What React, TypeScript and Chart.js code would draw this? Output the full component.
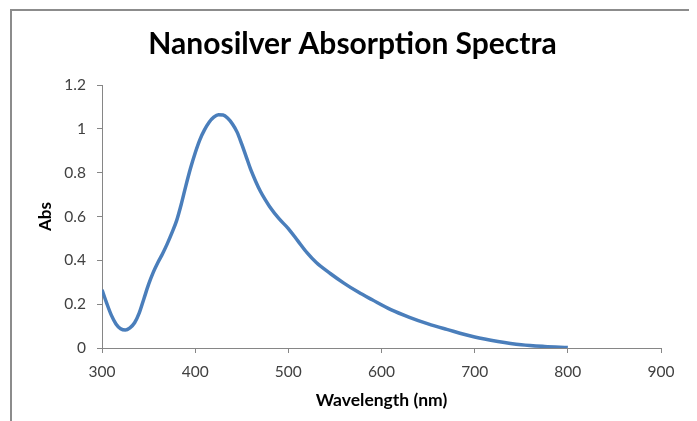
import React, { useEffect, useRef } from "react";
import { Chart, registerables } from "chart.js";

Chart.register(...registerables);

const chartTitle = "Nanosilver Absorption Spectra";
const xAxisTitle = "Wavelength (nm)";
const yAxisTitle = "Abs";

const wavelengths = [
  300, 305, 310, 315, 320, 325, 330, 335, 340, 345, 350, 355, 360, 365, 370, 375, 380, 385, 390, 395,
  400, 405, 410, 415, 420, 425, 430, 435, 440, 445, 450, 455, 460, 465, 470, 475, 480, 490, 500, 510,
  520, 530, 545, 560, 575, 590, 610, 630, 650, 670, 700, 725, 750, 775, 800,
];
const absorbance = [
  0.266, 0.205, 0.15, 0.11, 0.088, 0.082, 0.092, 0.115, 0.16, 0.225, 0.29, 0.345, 0.39, 0.43, 0.475, 0.525, 0.58, 0.655, 0.74, 0.82,
  0.89, 0.95, 0.995, 1.03, 1.053, 1.064, 1.063, 1.048, 1.022, 0.985, 0.93, 0.87, 0.81, 0.76, 0.715, 0.678, 0.645, 0.59, 0.545, 0.49,
  0.435, 0.39, 0.34, 0.295, 0.255, 0.22, 0.175, 0.14, 0.11, 0.085, 0.05, 0.03, 0.015, 0.007, 0.002,
];

const xTickLabels = ["300", "400", "500", "600", "700", "800", "900"];
const yTickLabels = ["0", "0.2", "0.4", "0.6", "0.8", "1", "1.2"];

const framePlugin = {
  id: "frame",
  beforeDraw(chart: any) {
    const ctx = chart.ctx;
    ctx.save();
    ctx.strokeStyle = "#8c8c8c";
    ctx.lineWidth = 2;
    ctx.beginPath();
    ctx.moveTo(3, chart.height);
    ctx.lineTo(3, 2);
    ctx.lineTo(chart.width, 2);
    ctx.stroke();
    ctx.restore();
  },
};

export default function App() {
  const ref = useRef<HTMLCanvasElement>(null);
  useEffect(() => {
    if (!ref.current) return;
    const points = wavelengths.map((w, i) => ({ x: w, y: absorbance[i] }));
    const axisColor = "#868686";
    const tickFont = { family: "Lato", size: 15.5 };
    const chart = new Chart(ref.current, {
      type: "line",
      data: {
        datasets: [
          {
            data: points,
            borderColor: "#4A7EBB",
            borderWidth: 3.5,
            pointRadius: 0,
            cubicInterpolationMode: "monotone",
            fill: false,
          },
        ],
      },
      options: {
        animation: false,
        responsive: false,
        maintainAspectRatio: false,
        layout: { padding: 0 },
        plugins: {
          legend: { display: false },
          tooltip: { enabled: false },
          title: {
            display: true,
            text: chartTitle,
            color: "#000000",
            font: { family: "Lato", size: 30, weight: "bold" },
            padding: { top: 18, bottom: 23 },
          },
        },
        scales: {
          x: {
            type: "linear",
            min: 300,
            max: 900,
            afterFit: (s: any) => { s.height = 73; },
            ticks: {
              stepSize: 100,
              color: "#404040",
              font: tickFont,
              padding: 10,
              maxRotation: 0,
              callback: (_v: any, i: number) => xTickLabels[i],
            },
            grid: { display: true, drawOnChartArea: false, drawTicks: true, tickLength: 5, color: axisColor },
            border: { display: true, color: axisColor, width: 1 },
            title: {
              display: true,
              text: xAxisTitle,
              color: "#000000",
              font: { family: "Lato", size: 17.5, weight: "bold" },
              padding: { top: 0, bottom: 10 },
            },
          },
          y: {
            type: "linear",
            min: 0,
            max: 1.2,
            afterFit: (s: any) => { s.width = 94; },
            ticks: {
              stepSize: 0.2,
              color: "#404040",
              font: tickFont,
              padding: 11,
              callback: (_v: any, i: number) => yTickLabels[i],
            },
            grid: { display: true, drawOnChartArea: false, drawTicks: true, tickLength: 5, color: axisColor },
            border: { display: true, color: axisColor, width: 1 },
            title: {
              display: true,
              text: yAxisTitle,
              color: "#000000",
              font: { family: "Lato", size: 17, weight: "bold" },
              padding: { top: 27, bottom: 0 },
            },
          },
          yRight: {
            type: "linear",
            position: "right",
            display: true,
            afterFit: (s: any) => { s.width = 36; },
            ticks: { display: false },
            grid: { display: false },
            border: { display: false },
          },
        },
      },
      plugins: [framePlugin],
    } as any);
    return () => chart.destroy();
  }, []);
  return <canvas ref={ref} width={689} height={413} style={{ display: "block" }} />;
}
